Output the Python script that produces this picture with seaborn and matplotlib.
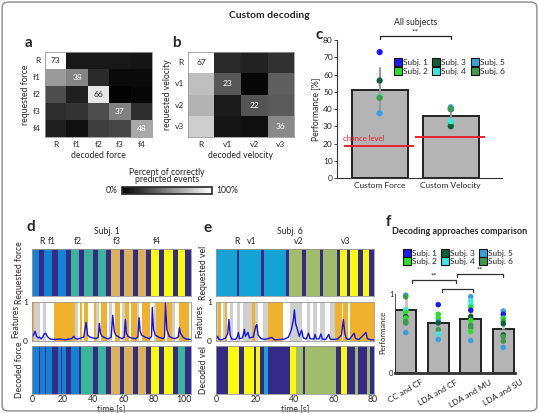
import numpy as np
import pandas as pd
import matplotlib
matplotlib.use('Agg')
import matplotlib.pyplot as plt
import seaborn as sns
from matplotlib.colors import ListedColormap
from matplotlib.lines import Line2D
from matplotlib.patches import FancyBboxPatch
from matplotlib.cm import ScalarMappable

sns.set_theme(style='white')
plt.rcParams['font.family'] = ['Lato', 'DejaVu Sans']

# ---- panel a / b : confusion matrices (% of requested events)
force_labels = ['R', 'f1', 'f2', 'f3', 'f4']
conf_force = [[73, 7, 7, 7, 6],
              [44, 38, 12, 3, 3],
              [22, 9, 66, 1, 2],
              [13, 15, 22, 37, 13],
              [9, 5, 18, 20, 48]]
vel_labels = ['R', 'v1', 'v2', 'v3']
conf_vel = [[67, 11, 9, 13],
            [50, 23, 2, 25],
            [47, 7, 22, 24],
            [54, 6, 4, 36]]

# ---- panel c : performance per subject
subjects = ['Subj. 1', 'Subj. 2', 'Subj. 3', 'Subj. 4', 'Subj. 5', 'Subj. 6']
subj_colors = ['#1c1cf0', '#2ee02e', '#0e5e3e', '#3ae8e0', '#3aa0e0', '#3c9c4c']
conditions = ['Custom Force', 'Custom Velocity']
perf_force = [73, 47, 56.5, 47, 37.5, 46.5]
perf_vel = [40, 32, 30, 33, 41, 40]
chance_level = [18.5, 24]

# ---- panel d : subject 1, force classes (segment edges in s)
d_req_edges = [0, 4.6, 8.1, 13.4, 16.9, 22.1, 25.4, 31.1, 34.4, 39.9, 43.2, 48.5, 52.0,
               57.5, 60.7, 66.0, 69.3, 74.8, 78.1, 83.6, 87.0, 92.3, 95.8, 100.7, 104.4]
d_req_class = ['f1', 'R', 'f1', 'R', 'f1', 'R', 'f2', 'R', 'f2', 'R', 'f2', 'R',
               'f3', 'R', 'f3', 'R', 'f3', 'R', 'f4', 'R', 'f4', 'R', 'f4', 'R']
d_dec_edges = [0, 4.6, 5.4, 8.3, 8.9, 13.4, 16.9, 19.0, 19.6, 22.1, 25.4, 31.1, 32.2, 39.9,
               43.2, 48.5, 52.0, 57.5, 60.7, 66.0, 69.3, 74.8, 78.1, 83.6, 87.0, 92.3,
               95.8, 100.7, 104.4]
d_dec_class = ['f1', 'R', 'f1', 'R', 'f1', 'R', 'f1', 'R', 'f1', 'R', 'f1', 'R', 'f2', 'R',
               'f2', 'R', 'f3', 'R', 'f3', 'R', 'f3', 'R', 'f4', 'R', 'f4', 'R', 'f2', 'R']
d_feat_edges = [0, 1.5, 5.3, 7.5, 9, 14.7, 28.3, 30, 31.6, 33.1, 34.4, 36.6, 40.4, 41.9,
                44.1, 45.4, 49.1, 50.7, 52.4, 54.2, 57.9, 59, 61.2, 63.4, 65.1, 68.9,
                70.4, 72.1, 77.6, 79.8, 81.4, 87.5, 88.6, 91.9, 94.1, 96.3, 102.8, 104.4]
d_feat_kind = ['o', 'g', 'w', 'g', 'w', 'o', 'g', 'w', 'o', 'w', 'o', 'w', 'o', 'g',
               'w', 'o', 'w', 'g', 'w', 'o', 'w', 'g', 'o', 'w', 'o', 'g', 'w', 'o',
               'w', 'g', 'o', 'w', 'o', 'g', 'w', 'o', 'w']
d_trace_t = [0, 1, 2, 3, 4, 5, 6, 7, 8, 9, 10, 11, 12, 14, 16, 18, 20, 22, 24, 26, 27.5,
             28.5, 30, 32, 34, 35.5, 36.5, 38, 40, 42, 43.5, 44.2, 45, 46, 48, 50, 52, 53,
             54, 55, 57, 59, 60.5, 61.3, 62, 63, 65, 68, 69.5, 70.3, 71, 72, 74, 77, 78.5,
             79, 79.8, 81, 83, 86, 87, 87.7, 88.5, 90, 92, 94, 96, 96.8, 97.5, 99, 101, 104]
d_trace_v = [0.1, 0.15, 0.25, 0.12, 0.08, 0.1, 0.05, 0.1, 0.18, 0.2, 0.12, 0.08, 0.05, 0.04,
             0.04, 0.05, 0.04, 0.03, 0.05, 0.06, 0.12, 0.06, 0.05, 0.08, 0.1, 0.48, 0.15, 0.1,
             0.08, 0.06, 0.1, 0.45, 0.2, 0.12, 0.08, 0.05, 0.1, 0.66, 0.25, 0.15, 0.1, 0.06,
             0.1, 0.55, 0.2, 0.12, 0.08, 0.06, 0.1, 0.6, 0.25, 0.15, 0.1, 0.06, 0.12, 0.86,
             0.3, 0.15, 0.1, 0.06, 0.1, 1.0, 0.3, 0.12, 0.08, 0.06, 0.1, 0.34, 0.2, 0.1,
             0.05, 0.04]
d_class_pos = [6.3, 13, 30, 56, 82]

# ---- panel e : subject 6, velocity classes
e_req_edges = [0, 10.5, 11.9, 23.0, 24.5, 35.7, 37.2, 44.0, 45.8, 53.0, 54.7, 61.6, 63.3,
               67.0, 68.4, 72.6, 74.8, 78.2, 80.6]
e_req_class = ['v1', 'R', 'v1', 'R', 'v1', 'R', 'v2', 'R', 'v2', 'R', 'v2', 'R',
               'v3', 'R', 'v3', 'R', 'v3', 'R']
e_dec_edges = [0, 6, 11.9, 14.5, 19.6, 20.2, 22.4, 24.7, 26.7, 37.8, 41, 44.5, 45.4, 61,
               64, 67, 71, 72.5, 77, 78.5, 80.6]
e_dec_class = ['R', 'v3', 'R', 'v3', 'R', 'v3', 'R', 'v1', 'R', 'v3', 'v2', 'R', 'v2',
               'R', 'v3', 'R', 'v2', 'R', 'v2', 'R']
e_feat_edges = [0, 0.9, 2.5, 3.7, 4.6, 5.4, 7.1, 8.8, 10.5, 12.2, 14, 18.2, 19.9, 21.6,
                24, 26.7, 34.4, 37.8, 43.7, 46.3, 47.9, 49.7, 51.4, 53, 55.6, 58.2, 60.7,
                64.1, 65, 67.5, 68.4, 80.6]
e_feat_kind = ['g', 'o', 'w', 'g', 'o', 'w', 'g', 'w', 'g', 'w', 'g', 'o', 'g', 'w',
               'g', 'o', 'w', 'g', 'w', 'g', 'w', 'g', 'w', 'g', 'w', 'g', 'o', 'w',
               'o', 'w', 'o']
e_trace_t = [0, 0.8, 1.5, 3, 5, 6, 6.6, 7.2, 8, 10, 11, 11.4, 12, 13.5, 14.5, 15, 16.3, 17,
             19, 20.3, 20.8, 21.5, 23, 25, 28.4, 30, 33, 35, 37, 38.5, 39.5, 40, 40.6, 41.5,
             42.5, 43.7, 44.5, 46, 47.2, 48, 50, 50.5, 51.2, 52.5, 53.5, 54.2, 56, 57.5,
             58.2, 60, 62, 64, 65, 65.7, 66.5, 68, 70.5, 71.2, 73, 76.5, 77.2, 79, 80.6]
e_trace_v = [0.05, 0.12, 0.04, 0.03, 0.08, 0.2, 0.55, 0.15, 0.05, 0.04, 0.12, 0.22, 0.06,
             0.08, 0.3, 0.12, 0.22, 0.08, 0.1, 0.38, 0.42, 0.15, 0.06, 0.04, 0.09, 0.03,
             0.04, 0.05, 0.1, 0.3, 0.55, 0.8, 0.45, 0.3, 0.12, 0.28, 0.08, 0.05, 0.2, 0.06,
             0.05, 0.17, 0.06, 0.05, 0.18, 0.05, 0.04, 0.17, 0.05, 0.04, 0.05, 0.15, 0.55,
             0.2, 0.06, 0.04, 0.2, 0.06, 0.04, 0.22, 0.06, 0.03, 0.03]
e_class_labels = ['R', 'v1', 'v2', 'v3']
e_class_pos = [10.7, 18.4, 42.3, 66.3]

# ---- panel f : decoding approaches
methods = ['CC and CF', 'LDA and CF', 'LDA and MU', 'LDA and SU']
f_means = [0.79, 0.63, 0.68, 0.55]
f_err = [0.19, 0.10, 0.13, 0.12]
f_dots = {
    'CC and CF': ([0.98, 0.96, 0.80, 0.78, 0.76, 0.71, 0.69, 0.65, 0.63, 0.51],
                  [5, 6, 4, 4, 2, 3, 2, 6, 6, 5]),
    'LDA and CF': ([0.86, 0.74, 0.69, 0.65, 0.63, 0.545, 0.49, 0.42],
                   [1, 2, 2, 5, 3, 6, 4, 5]),
    'LDA and MU': ([0.96, 0.91, 0.86, 0.83, 0.79, 0.71, 0.66, 0.60, 0.57, 0.52, 0.41],
                   [5, 4, 4, 2, 1, 3, 2, 6, 6, 2, 5]),
    'LDA and SU': ([0.78, 0.74, 0.69, 0.65, 0.62, 0.48, 0.46, 0.40, 0.32],
                   [5, 1, 2, 6, 3, 3, 6, 6, 5]),
}

force_palette = {'R': '#352a87', 'f1': '#1482d2', 'f2': '#3bb49a', 'f3': '#d9b25b', 'f4': '#f9fb0e'}
vel_palette = {'R': '#352a87', 'v1': '#14a3d4', 'v2': '#a0bd6b', 'v3': '#f9fb0e'}
feat_palette = {'w': '#ffffff', 'g': '#cfcfcf', 'o': '#f0b22c'}

W, H = 539, 413
fig = plt.figure(figsize=(W / 100, H / 100), dpi=100)


def px_axes(x0, y0, x1, y1):
    return fig.add_axes([x0 / W, 1 - y1 / H, (x1 - x0) / W, (y1 - y0) / H])


def draw_segments(ax, edges, labels, palette):
    names = list(palette)
    codes = np.array([names.index(l) for l in labels])[None, :]
    cmap = ListedColormap([palette[n] for n in names])
    ax.pcolormesh(edges, [0, 1], codes, cmap=cmap, vmin=-0.5, vmax=len(names) - 0.5)
    ax.set_xlim(edges[0], edges[-1])
    ax.set_ylim(0, 1)


def style_box(ax):
    for s in ax.spines.values():
        s.set_visible(True)
        s.set_color('#999999')
        s.set_linewidth(0.6)
    ax.tick_params(labelsize=6, length=2, width=0.5, pad=1)


fs = 6.2


def conf_panel(box, mat, labels, what):
    ax = px_axes(*box)
    m = np.array(mat)
    annot = np.where(np.eye(len(m), dtype=bool), m.astype(str), '')
    sns.heatmap(pd.DataFrame(m, index=labels, columns=labels), ax=ax, cmap='gray',
                vmin=0, vmax=m.max(), annot=annot, fmt='', cbar=False,
                xticklabels=labels, yticklabels=labels, annot_kws={'fontsize': 6})
    style_box(ax)
    ax.tick_params(left=False, bottom=False)
    ax.tick_params(axis='y', labelrotation=0)
    ax.set_xlabel('decoded ' + what, fontsize=fs, labelpad=2)
    ax.set_ylabel('requested ' + what, fontsize=fs, labelpad=2)


conf_panel((45, 52, 152, 137), conf_force, force_labels, 'force')
conf_panel((188, 52, 294, 137), conf_vel, vel_labels, 'velocity')

# colorbar
cax = px_axes(122, 187, 212, 194)
cb = fig.colorbar(ScalarMappable(cmap='gray'), cax=cax, orientation='horizontal')
cb.set_ticks([])
cb.outline.set_linewidth(1.2)
fig.text(167 / W, 1 - 176 / H, 'Percent of correctly\npredicted events', ha='center',
         va='center', fontsize=fs, linespacing=0.85)
fig.text(118 / W, 1 - 191 / H, '0%', ha='right', va='center', fontsize=fs)
fig.text(216 / W, 1 - 191 / H, '100%', ha='left', va='center', fontsize=fs)

# ---------------- panel c
ax = px_axes(337, 40, 502, 178)
df_c = pd.DataFrame({'cond': np.repeat(conditions, len(subjects)),
                     'subj': subjects * 2,
                     'perf': perf_force + perf_vel})
sns.barplot(data=df_c, x='cond', y='perf', color='#b4b4b4', saturation=1, width=0.79,
            edgecolor='#222222', linewidth=1.4, errorbar='sd',
            err_kws={'color': '#9a9a9a', 'linewidth': 1.5}, ax=ax)
sns.stripplot(data=df_c, x='cond', y='perf', hue='subj', palette=subj_colors, jitter=False,
              size=4.5, linewidth=0, legend=False, ax=ax, zorder=4)
for i, ch in enumerate(chance_level):
    ax.hlines(ch, i - 0.5, i + 0.48, color='#e8202a', lw=1.4, zorder=5)
ax.text(-0.52, 21.5, 'chance level', color='#e8202a', fontsize=5.5)
ax.plot([0, 0, 1, 1], [80.5, 82.5, 82.5, 80.5], color='#222222', lw=0.9, clip_on=False)
ax.text(0.5, 82.8, '**', ha='center', va='bottom', fontsize=6)
ax.text(0.5, 90, 'All subjects', ha='center', va='center', fontsize=fs)
ax.set_xlim(-0.6, 1.72)
ax.set_ylim(0, 80)
ax.set_yticks(range(0, 81, 10))
sns.despine(ax=ax)
for s in ['left', 'bottom']:
    ax.spines[s].set_color('#333333')
    ax.spines[s].set_linewidth(0.8)
ax.tick_params(labelsize=6, length=2, width=0.6, pad=1, left=True, bottom=False)
ax.set_xlabel('')
ax.set_ylabel('Performance [%]', fontsize=fs, labelpad=2)
handles = [Line2D([], [], marker='s', ls='', markerfacecolor=c, markeredgecolor='#111111',
                  markersize=5.5, markeredgewidth=0.8) for c in subj_colors]
ax.legend(handles, subjects, ncol=3, loc='upper right', bbox_to_anchor=(1.04, 0.89),
          frameon=False, fontsize=6, handletextpad=0.1, columnspacing=0.5,
          labelspacing=0.15, borderpad=0, handlelength=1)


# ---------------- panels d / e
def time_panel(x0, x1, req_e, req_c, dec_e, dec_c, f_e, f_k, tr_t, tr_v, palette,
               ticks, req_lab, dec_lab, class_labels, class_pos, subj):
    ax1 = px_axes(x0, 249, x1, 296)
    draw_segments(ax1, req_e, req_c, palette)
    style_box(ax1)
    ax1.set_xticks([])
    ax1.set_yticks([])
    ax1.set_ylabel(req_lab, fontsize=fs, labelpad=6)
    tr = ax1.get_xaxis_transform()
    for lab, p in zip(class_labels, class_pos):
        ax1.text(p, 1.15, lab, transform=tr, ha='center', va='center', fontsize=fs)
    ax1.text(np.mean(ax1.get_xlim()) - 0.03 * req_e[-1], 1.37, subj, transform=tr,
             ha='center', va='center', fontsize=fs)

    ax2 = px_axes(x0, 302, x1, 341)
    draw_segments(ax2, f_e, f_k, feat_palette)
    sns.lineplot(x=tr_t, y=tr_v, ax=ax2, color='#1414e0', lw=1)
    ax2.set_ylim(0, 1)
    ax2.set_xlim(f_e[0], f_e[-1])
    style_box(ax2)
    ax2.set_xticks([])
    ax2.set_yticks([0, 1])
    ax2.tick_params(left=False)
    ax2.set_ylabel('Features', fontsize=fs, labelpad=2)

    ax3 = px_axes(x0, 346, x1, 394)
    draw_segments(ax3, dec_e, dec_c, palette)
    style_box(ax3)
    ax3.set_yticks([])
    ax3.set_xticks(ticks)
    ax3.tick_params(bottom=False, length=0, pad=1, labelsize=6.3)
    ax3.set_xlabel('time [s]', fontsize=fs, labelpad=-0.5)
    ax3.set_ylabel(dec_lab, fontsize=fs, labelpad=6)
    fig.align_ylabels([ax1, ax2, ax3])


time_panel(32, 191, d_req_edges, d_req_class, d_dec_edges, d_dec_class, d_feat_edges,
           d_feat_kind, d_trace_t, d_trace_v, force_palette,
           [0, 20, 40, 60, 80, 100], 'Requested force', 'Decoded force',
           force_labels, d_class_pos, 'Subj. 1')
time_panel(216, 374, e_req_edges, e_req_class, e_dec_edges, e_dec_class, e_feat_edges,
           e_feat_kind, e_trace_t, e_trace_v, vel_palette,
           [0, 20, 40, 60, 80], 'Requested vel', 'Decoded vel',
           e_class_labels, e_class_pos, 'Subj. 6')

# ---------------- panel f
ax = px_axes(395, 292, 515, 373)
df_f = pd.DataFrame({'method': [k for k, (v, s) in f_dots.items() for _ in v],
                     'perf': [x for v, s in f_dots.values() for x in v],
                     'subj': [subjects[i - 1] for v, s in f_dots.values() for i in s]})
sns.barplot(x=methods, y=f_means, color='#b4b4b4', saturation=1, width=0.65,
            edgecolor='#222222', linewidth=1.4, ax=ax)
ax.errorbar(range(len(methods)), f_means, yerr=[np.zeros(len(f_err)), f_err], fmt='none',
            ecolor='#c4c4c4', elinewidth=2, zorder=2)
sns.stripplot(data=df_f, x='method', y='perf', hue='subj', hue_order=subjects,
              palette=subj_colors, jitter=False, size=4, linewidth=0, legend=False,
              ax=ax, zorder=4)
for c in ax.collections:
    c.set_clip_on(False)
brackets = [([0.19, 0.19, 1.55, 1.55], [1.135, 1.17, 1.17, 1.135]),
            ([1.1, 1.1, 2.06, 2.06], [1.025, 1.06, 1.06, 1.025]),
            ([1.58, 1.58, 2.98, 2.98], [1.215, 1.25, 1.25, 1.215])]
for bx, by in brackets:
    ax.plot(bx, by, color='#333333', lw=0.9, clip_on=False)
ax.text(0.87, 1.175, '**', ha='center', va='bottom', fontsize=5.5)
ax.text(2.27, 1.255, '**', ha='center', va='bottom', fontsize=5.5)
ax.set_xlim(-0.33, 3.36)
ax.set_ylim(0, 1.02)
ax.set_yticks([0, 1])
sns.despine(ax=ax)
ax.spines['left'].set_bounds(0, 1)
ax.spines['left'].set_color('#333333')
ax.spines['left'].set_linewidth(0.6)
ax.spines['bottom'].set_color('#333333')
ax.spines['bottom'].set_linewidth(2)
ax.tick_params(labelsize=5.5, length=0, pad=1)
ax.set_xticks(range(len(methods)))
ax.set_xticklabels(methods, rotation=30, ha='center', va='top', fontsize=6)
ax.tick_params(axis='x', pad=4)
ax.set_xlabel('')
ax.set_ylabel('Performance', fontsize=5.5, labelpad=2)
ax.legend(handles, subjects, ncol=3, loc='upper left', bbox_to_anchor=(0.03, 1.57),
          frameon=False, fontsize=6, handletextpad=0.1, columnspacing=0.5,
          labelspacing=0.15, borderpad=0, handlelength=1)

# ---------------- titles and letters
fig.text(269 / W, 1 - 15 / H, 'Custom decoding', ha='center', va='center', fontsize=7.5,
         fontweight='bold')
fig.text(460 / W, 1 - 232 / H, 'Decoding approaches comparison', ha='center', va='center',
         fontsize=6.5, fontweight='bold')
for lab, x, y in [('a', 28, 43), ('b', 176, 43), ('c', 319, 35), ('d', 31, 227),
                  ('e', 208, 228), ('f', 388, 222)]:
    fig.text(x / W, 1 - y / H, lab, ha='center', va='center', fontsize=11, fontweight='bold')

fig.patches.append(FancyBboxPatch((0.004, 0.005), 0.992, 0.99,
                                  boxstyle='round,pad=0,rounding_size=0.012',
                                  transform=fig.transFigure, fill=False,
                                  edgecolor='#8a8a8a', lw=1))

fig.savefig('out.png', dpi=100)
